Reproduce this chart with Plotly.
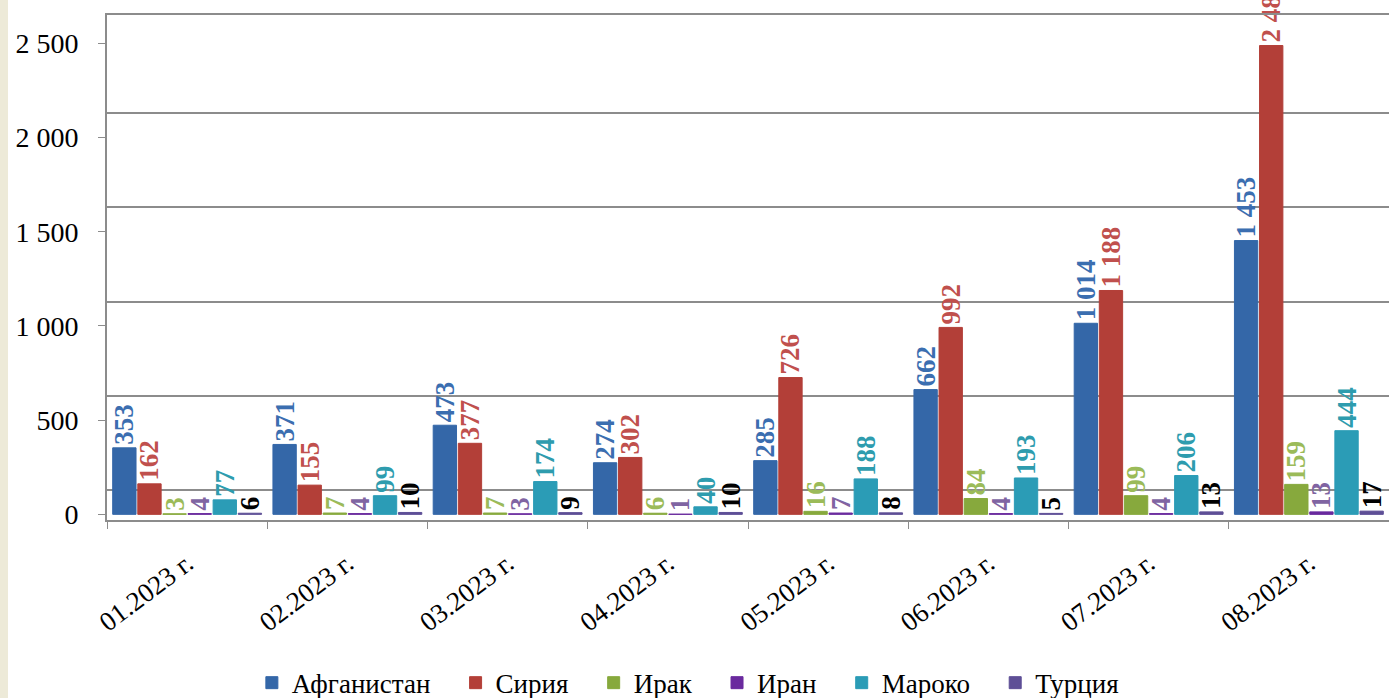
import plotly.graph_objects as go

categories = ["01.2023 г.", "02.2023 г.", "03.2023 г.", "04.2023 г.",
              "05.2023 г.", "06.2023 г.", "07.2023 г.", "08.2023 г."]

afghanistan = [353, 371, 473, 274, 285, 662, 1014, 1453]
syria = [162, 155, 377, 302, 726, 992, 1188, 2488]
iraq = [3, 7, 7, 6, 16, 84, 99, 159]
iran = [4, 4, 3, 1, 7, 4, 4, 13]
morocco = [77, 99, 174, 40, 188, 193, 206, 444]
turkey = [6, 10, 9, 10, 8, 5, 13, 17]

series_names = ["Афганистан", "Сирия", "Ирак", "Иран", "Мароко", "Турция"]
series_values = [afghanistan, syria, iraq, iran, morocco, turkey]
bar_colors = ["#3467A8", "#B33F38", "#87A93D", "#6A2A9E", "#2B9CB6", "#5E4F96"]
label_colors = ["#3B6EB0", "#C0504D", "#9BBB59", "#8064A2", "#2E9CAE", "#000000"]

FONT = "Liberation Serif, Times New Roman, serif"
PAD = "\u00a0" * 3

fig = go.Figure()

# invisible helper so the back-wall grid axis is rendered
fig.add_trace(go.Scatter(
    x=categories, y=afghanistan, yaxis="y", mode="markers",
    marker=dict(opacity=0), showlegend=False, hoverinfo="skip",
))

for name, vals, bc, lc in zip(series_names, series_values, bar_colors, label_colors):
    fig.add_trace(go.Bar(
        name=name + PAD,
        x=categories,
        y=vals,
        yaxis="y2",
        marker=dict(color=bc, line=dict(color=bc, width=1)),
        texttemplate="%{y:,}",
        textposition="outside",
        textangle=-90,
        constraintext="none",
        cliponaxis=False,
        textfont=dict(family=FONT, size=27, color=lc, weight="bold"),
        hovertemplate=name + ": %{y}<extra>%{x}</extra>",
    ))

fig.update_layout(
    width=1389,
    height=698,
    margin=dict(l=107, r=0, t=15, b=178, autoexpand=False),
    paper_bgcolor="white",
    plot_bgcolor="white",
    separators=". ",
    barmode="group",
    bargap=0.06,
    bargroupgap=0.07,
    font=dict(family=FONT, size=26, color="#000000"),
    showlegend=True,
    legend=dict(
        orientation="h",
        x=0.113, xref="paper", xanchor="left",
        y=-0.323, yanchor="middle",
        font=dict(family=FONT, size=27, color="#000000"),
        bgcolor="rgba(0,0,0,0)",
    ),
    xaxis=dict(
        type="category",
        automargin=False,
        showline=True, linecolor="#8c8c8c", linewidth=2,
        mirror=True,
        ticks="outside", tickson="boundaries", ticklen=7, tickcolor="#8c8c8c",
        tickangle=-37,
        ticklabelstandoff=15,
        tickfont=dict(family=FONT, size=27, color="#000000"),
        showgrid=False,
    ),
    # back-wall grid (shifted like the 3D perspective of the original)
    yaxis=dict(
        automargin=False,
        range=[-159, 2521],
        tickmode="array", tickvals=list(range(0, 2001, 500)),
        showticklabels=False, ticks="",
        showgrid=True, gridcolor="#8c8c8c", gridwidth=2,
        zeroline=False, showline=False,
    ),
    # value axis with labels
    yaxis2=dict(
        overlaying="y", side="left",
        automargin=False,
        range=[-30, 2650],
        tickmode="linear", tick0=0, dtick=500,
        tickformat=",d",
        showline=True, linecolor="#8c8c8c", linewidth=2,
        ticks="outside", ticklen=7, tickcolor="#8c8c8c",
        ticklabelstandoff=14,
        tickfont=dict(family=FONT, size=28, color="#000000"),
        showgrid=False, zeroline=False,
    ),
    shapes=[dict(type="rect", xref="paper", yref="paper",
                 x0=-107 / 1282, x1=-99 / 1282, y0=-178 / 505, y1=520 / 505,
                 fillcolor="#EDEAD8", line=dict(width=0), layer="below")],
)

fig.write_html("out.html", config={"displayModeBar": False},
               post_script="document.body.style.margin='0px';")
